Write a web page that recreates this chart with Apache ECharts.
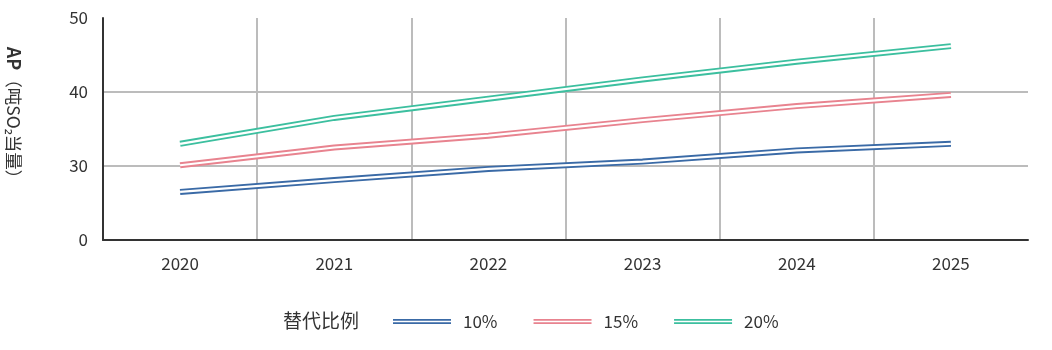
<!DOCTYPE html>
<html>
<head>
<meta charset="utf-8">
<script src="https://cdn.jsdelivr.net/npm/echarts@6/dist/echarts.min.js"></script>
<style>
  html, body { margin: 0; padding: 0; background: #fff; }
  #chart { width: 1052px; height: 350px; }
</style>
</head>
<body>
<div id="chart"></div>
<script>
// Emission projections (AP, t SO2-eq) by substitution ratio
const years = ['2020', '2021', '2022', '2023', '2024', '2025'];
const ratio10 = [26.5, 28.1, 29.6, 30.6, 32.1, 33.0];
const ratio15 = [30.1, 32.5, 34.1, 36.2, 38.1, 39.6];
const ratio20 = [33.0, 36.5, 39.1, 41.7, 44.1, 46.2];
const seriesNames = ['10%', '15%', '20%'];
const seriesColors = ['#3a6aa6', '#e8838f', '#3cbf9f'];
const yTickLabels = [0, 30, 40, 50];

const FONT = '"Noto Sans CJK SC", "Noto Sans", sans-serif';
const values = [ratio10, ratio15, ratio20];

// Each series is drawn as a double line: a wide coloured stroke with a thin white core.
const outer = seriesNames.map((name, i) => ({
  name: name,
  type: 'line',
  data: values[i],
  symbol: 'none',
  z: 2,
  itemStyle: { color: seriesColors[i] },
  lineStyle: { color: seriesColors[i], width: 6 }
}));
const inner = seriesNames.map((name, i) => ({
  name: name,
  type: 'line',
  data: values[i],
  symbol: 'none',
  z: 3,
  silent: true,
  itemStyle: { color: seriesColors[i] },
  lineStyle: { color: '#ffffff', width: 2.2 }
}));

const chart = echarts.init(document.getElementById('chart'), null, { renderer: 'canvas' });
chart.setOption({
  backgroundColor: '#ffffff',
  animation: false,
  textStyle: { fontFamily: FONT },
  grid: { left: 103, right: 24, top: 18, bottom: 110, containLabel: false },
  xAxis: {
    type: 'category',
    data: years,
    boundaryGap: true,
    axisLine: { lineStyle: { color: '#333333', width: 2 } },
    axisTick: { show: false },
    axisLabel: { color: '#333333', fontSize: 17, margin: 15, fontFamily: FONT },
    splitLine: {
      show: true,
      showMinLine: false,
      showMaxLine: false,
      lineStyle: { color: '#bcbcbc', width: 2 }
    }
  },
  yAxis: {
    type: 'value',
    min: 0,
    max: 50,
    interval: 10,
    breaks: [{ start: 0, end: 20, gap: 0 }],
    breakArea: { show: false },
    breakLabelLayout: { moveOverlap: false },
    axisLine: { show: true, lineStyle: { color: '#333333', width: 2 } },
    axisTick: { show: false },
    axisLabel: {
      color: '#333333',
      fontSize: 17,
      margin: 15,
      fontFamily: FONT,
      formatter: function (v) { return yTickLabels.indexOf(v) >= 0 ? String(v) : ''; }
    },
    splitLine: {
      show: true,
      showMinLine: false,
      showMaxLine: false,
      lineStyle: { color: '#bcbcbc', width: 2 }
    }
  },
  legend: {
    data: seriesNames,
    left: 393,
    top: 313,
    padding: 0,
    orient: 'horizontal',
    itemWidth: 58,
    itemHeight: 5,
    itemGap: 36,
    icon: 'path://M0,0H58V1.7H0Z M0,3.3H58V5H0Z',
    textStyle: { color: '#333333', fontSize: 17, fontFamily: FONT, padding: [0, 0, 0, 7] }
  },
  graphic: [
    {
      type: 'text',
      left: 283,
      top: 311,
      style: { text: '替代比例', fill: '#333333', font: '19px ' + FONT }
    },
    {
      type: 'text',
      x: 14,
      y: 117,
      rotation: -Math.PI / 2,
      style: {
        text: '{b|AP}{n|（吨SO₂当量）}',
        align: 'center',
        verticalAlign: 'middle',
        rich: {
          b: { fontSize: 18, fontWeight: 'bold', fill: '#333333', fontFamily: FONT },
          n: { fontSize: 17.5, fill: '#333333', fontFamily: FONT }
        }
      }
    }
  ],
  series: outer.concat(inner)
});
</script>
</body>
</html>
